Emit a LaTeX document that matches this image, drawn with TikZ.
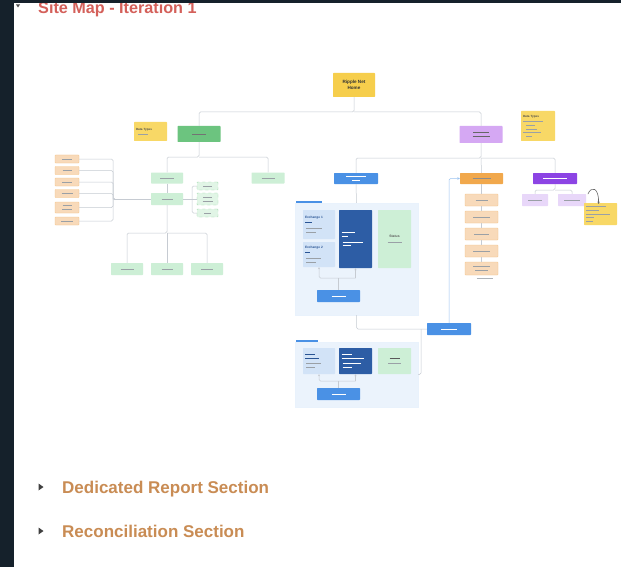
\documentclass[tikz,border=0pt]{standalone}
\usepackage{fontspec}
\setmainfont{Liberation Sans}
\usetikzlibrary{arrows.meta,calc}

\definecolor{darkbg}{HTML}{15212B}
\definecolor{titlered}{HTML}{D4605A}
\definecolor{tan}{HTML}{C98C54}
\definecolor{ylw}{HTML}{F6CE4C}
\definecolor{ylwnote}{HTML}{F8D866}
\definecolor{grn}{HTML}{6CC47F}
\definecolor{lgrn}{HTML}{CDEFD6}
\definecolor{prp}{HTML}{D5A8F3}
\definecolor{dprp}{HTML}{8C44E4}
\definecolor{lprp}{HTML}{E8D7F9}
\definecolor{blu}{HTML}{4A91E5}
\definecolor{dblu}{HTML}{2D5DA5}
\definecolor{lblu}{HTML}{D2E3F7}
\definecolor{framebg}{HTML}{EBF3FC}
\definecolor{org}{HTML}{F1A84C}
\definecolor{lorg}{HTML}{F8DABA}
\definecolor{wire}{HTML}{C6CBD2}
\definecolor{smudge}{HTML}{9AA0A6}

% a short grey stroke standing for a line of small print
\newcommand\gl[1]{\rule{#1pt}{0.7pt}}

\tikzset{
  bx/.style={rectangle, rounded corners=0.6pt, inner sep=0.6pt, align=center,
    font=\fontsize{3}{3.8}\selectfont, text=smudge},
  sz/.style 2 args={minimum width=#1, minimum height=#2},
  lgbox/.style={bx, fill=lgrn},
  dashgbox/.style={bx, fill=lgrn!60, draw=grn!70, dashed, line width=0.3pt},
  lobox/.style={bx, fill=lorg, draw=org!70, line width=0.3pt},
  lpbox/.style={bx, fill=lprp},
  note/.style={bx, fill=ylwnote, text=black!70, align=left},
  frm/.style={rectangle, fill=framebg, draw=blu!12, line width=0.3pt},
  wire/.style={draw=wire, line width=0.5pt, rounded corners=1.5pt},
  bwire/.style={draw=blu!55, line width=0.5pt, rounded corners=1.5pt},
  tip/.style={-{Stealth[length=2.4pt,width=2.4pt]}},
  head/.style={font=\bfseries\fontsize{17}{17}\selectfont, text=tan, anchor=base west},
}

\begin{document}
\begin{tikzpicture}[x=1pt,y=-1pt]
\useasboundingbox (0,0) rectangle (621,567);

% page: dark frame and white sheet
\fill[darkbg] (0,0) rectangle (621,567);
\fill[white] (14,3) rectangle (621,567);

% heading, its top hidden under the window edge
\node[anchor=base west, text=titlered, font=\bfseries\fontsize{16.2}{16}\selectfont,
      inner sep=0] (title) at (38,13.5) {Site Map - Iteration 1};
\fill[darkbg] (0,0) rectangle (621,3);
\fill[black!70] (16,4.5) -- (20,4.5) -- (18,7.5) -- cycle;

% ---------------- top level ----------------
\node[bx, sz={42}{24}, fill=ylw, text=black!80, font=\bfseries\fontsize{4.6}{6}\selectfont]
  (home) at (354,85) {Ripple Net\\Home};
\node[bx, sz={43}{16}, fill=grn, text=black!55] (pay) at (199,134) {\gl{14}};
\node[bx, sz={43}{17}, fill=prp, text=black!60] (stm) at (481,134.5) {\gl{16}\\\gl{17}};

\node[note, sz={33}{19}, text width=29pt, anchor=center] (dt1) at (150.5,131.5)
  {{\bfseries Data Types}\\[0.6pt]\hspace*{2pt}\textcolor{smudge}{\gl{10}}};
\node[note, sz={34}{30}, text width=30pt, anchor=center] (dt2) at (538,126)
  {{\bfseries Data Types}\\[0.6pt]\textcolor{smudge}{\gl{20}\\\hspace*{3pt}\gl{9}\\\hspace*{3pt}\gl{11}\\\gl{18}\\\hspace*{3pt}\gl{6}}};

\coordinate (hb) at (354,112);
\draw[wire] (home.south) -- (hb) -| (pay.north);
\draw[wire] (hb) -| (stm.north);

% ---------------- left branch ----------------
\node[lgbox, sz={32}{11}] (tx) at (167,178) {\gl{14}};
\node[lgbox, sz={33}{11}] (rt) at (268,178) {\gl{13}};
\coordinate (pb) at (199,157);
\draw[wire] (pay.south) -- (pb) -| (tx.north);
\draw[wire] (pb) -| (rt.north);

\node[lgbox, sz={32}{12}] (oo) at (167,199) {\gl{11}};
\draw[wire] (tx.south) -- (oo.north);

% source list on the far left
\node[lobox, sz={24}{8}]  (o1) at (67,159) {\gl{10}};
\node[lobox, sz={24}{8}]  (o2) at (67,170.5) {\gl{9}};
\node[lobox, sz={24}{8}]  (o3) at (67,182) {\gl{10}};
\node[lobox, sz={24}{8}]  (o4) at (67,193.5) {\gl{11}};
\node[lobox, sz={24}{11}] (o5) at (67,207.5) {\gl{9}\\\gl{10}};
\node[lobox, sz={24}{8}]  (o6) at (67,221) {\gl{12}};
\coordinate (lb) at (113,199);
\foreach \o in {o1,o2,o3,o4,o5,o6} \draw[wire] (\o.east) -| (lb);
\draw[wire, {Stealth[length=2pt,width=2pt]}-] (lb) -- (oo.west);

% dashed options to the right
\node[dashgbox, sz={21}{8}]  (d1) at (207.5,186) {\gl{9}};
\node[dashgbox, sz={21}{12}] (d2) at (207.5,199) {\gl{9}\\\gl{10}};
\node[dashgbox, sz={21}{8}]  (d3) at (207.5,213) {\gl{7}};
\coordinate (db) at (192,199);
\draw[wire] (oo.east) -- (db);
\draw[wire] (d1.west) -| (db);
\draw[wire] (d2.west) -- (db);
\draw[wire] (d3.west) -| (db);

% three leaves below
\node[lgbox, sz={32}{12}] (b1) at (127,269) {\gl{13}};
\node[lgbox, sz={32}{12}] (b2) at (167,269) {\gl{11}};
\node[lgbox, sz={32}{12}] (b3) at (207,269) {\gl{12}};
\coordinate (ob) at (167,233);
\draw[wire] (oo.south) -- (ob) -| (b1.north);
\draw[wire] (ob) -| (b3.north);
\draw[wire] (ob) -- (b2.north);

% ---------------- right branch ----------------
\node[bx, sz={44}{11}, fill=blu, text=white!80] (bl) at (356,178.5) {\gl{20}\\\gl{8}};
\node[bx, sz={43}{11}, fill=org, text=black!45] (or) at (481.5,178.5) {\gl{18}};
\node[bx, sz={44}{11}, fill=dprp, text=white!75] (dp) at (555,178.5) {\gl{24}};
\coordinate (sb) at (481,158);
\draw[wire] (stm.south) -- (sb) -| (bl.north);
\draw[wire] (sb) -- (or.north);
\draw[wire] (sb) -| (dp.north);

% purple leaves and note
\node[lpbox, sz={26}{12}] (lp1) at (535,200) {\gl{14}};
\node[lpbox, sz={28}{12}] (lp2) at (572,200) {\gl{16}};
\coordinate (pp) at (555,190);
\draw[wire] (dp.south) -- (pp) -| (lp1.north);
\draw[wire] (pp) -| (lp2.north);
\node[note, sz={33}{22}, text width=29pt, anchor=center] (nt) at (600.5,214)
  {\textcolor{smudge}{\gl{20}\\\gl{13}\\\gl{24}\\\gl{8}\\\gl{7}}};
\coordinate (cu1) at (588,194);
\coordinate (cu2) at (598.5,204);
\draw[black!60, line width=0.6pt, line cap=round, tip]
  (cu1) .. controls (591,186) and (599,187) .. (cu2);

% orange column
\node[lobox, sz={33}{12}] (c1) at (481.5,200) {\gl{12}};
\node[lobox, sz={33}{12}] (c2) at (481.5,217) {\gl{17}};
\node[lobox, sz={33}{12}] (c3) at (481.5,234) {\gl{15}};
\node[lobox, sz={33}{12}] (c4) at (481.5,251) {\gl{17}};
\node[lobox, sz={33}{13}] (c5) at (481.5,268.5) {\gl{17}\\\gl{13}};
\draw[wire] (or.south) -- (c1.north);
\draw[wire] (c1.south) -- (c2.north);
\draw[wire] (c2.south) -- (c3.north);
\draw[wire] (c3.south) -- (c4.north);
\draw[wire] (c4.south) -- (c5.north);
\node[bx, text=smudge!80, anchor=west] (cnote) at (476,278) {\gl{16}};

% ---------------- detail screen ----------------
\node[frm, sz={123}{112}] (fr1) at (356.5,259) {};
\node[bx, anchor=south west, text=blu, inner sep=0.3pt] (fr1t) at ($(fr1.north west)+(1,0.5)$) {\rule{26pt}{1.4pt}};
\node[bx, sz={32}{29}, fill=lblu, text=dblu!90!black, align=left, text width=28pt,
      font=\bfseries\fontsize{3.2}{4}\selectfont] (e1) at (319,224.5)
  {Exchange 1\\\mdseries\gl{7}\\[1.5pt]\textcolor{smudge}{\hspace*{1pt}\gl{16}\\\hspace*{1pt}\gl{10}}};
\node[bx, sz={32}{25}, fill=lblu, text=dblu!90!black, align=left, text width=28pt,
      font=\bfseries\fontsize{3.2}{4}\selectfont] (e2) at (319,254.5)
  {Exchange 2\\\mdseries\gl{5}\\[1.5pt]\textcolor{smudge}{\hspace*{1pt}\gl{15}\\\hspace*{1pt}\gl{10}}};
\node[bx, sz={33}{58}, fill=dblu, text=white!80, align=left, text width=28pt] (cb1) at (355.5,239)
  {\gl{13}\\\gl{6}\\[2pt]\hspace*{1pt}\gl{20}\\\hspace*{1pt}\gl{8}};
\node[bx, sz={33}{58}, fill=lgrn, text=black!65, font=\bfseries\fontsize{3.4}{5}\selectfont] (st1) at (394.5,239)
  {Status\\\textcolor{smudge}{\gl{14}}};
\node[bx, sz={43}{12}, fill=blu, text=white!80] (bt1) at (338.5,296) {\gl{14}};
\coordinate (k1) at (319,278);
\coordinate (k1m) at (338.5,278);
\draw[wire, {Stealth[length=2pt,width=2pt]}-] (e2.south) -- (k1) -- (k1 -| cb1);
\draw[wire, -{Stealth[length=2pt,width=2pt]}] (k1 -| cb1) -- (cb1.south);
\draw[wire] (k1m) -- (bt1.north);

% ---------------- summary screen ----------------
\node[frm, sz={123}{65}] (fr2) at (356.5,374.5) {};
\node[bx, anchor=south west, text=blu, inner sep=0.3pt] (fr2t) at ($(fr2.north west)+(1,0.5)$) {\rule{22pt}{1.4pt}};
\node[bx, sz={32}{26}, fill=lblu, text=dblu!90!black, align=left, text width=28pt] (dm) at (319,361)
  {\gl{10}\\\gl{14}\\[1.5pt]\textcolor{smudge}{\hspace*{1pt}\gl{15}\\\hspace*{1pt}\gl{9}}};
\node[bx, sz={33}{26}, fill=dblu, text=white!85, align=left, text width=28pt,
      font=\bfseries\fontsize{3.2}{4}\selectfont] (cb2) at (355.5,361)
  {\gl{10}\\\gl{22}\\[1.5pt]\mdseries\hspace*{1pt}\gl{18}\\\hspace*{1pt}\gl{9}};
\node[bx, sz={33}{26}, fill=lgrn, text=black!65, font=\bfseries\fontsize{3.4}{5}\selectfont] (st2) at (394.5,361)
  {\gl{10}\\\textcolor{smudge}{\gl{13}}};
\node[bx, sz={43}{12}, fill=blu, text=white!80] (bt2) at (338.5,394) {\gl{14}};
\coordinate (k2) at (319,381);
\coordinate (k2m) at (338.5,381);
\draw[wire, {Stealth[length=2pt,width=2pt]}-] (dm.south) -- (k2) -- (k2 -| cb2);
\draw[wire, -{Stealth[length=2pt,width=2pt]}] (k2 -| cb2) -- (cb2.south);
\draw[wire] (k2m) -- (bt2.north);

% ---------------- link between the screens ----------------
\draw[wire] (bl.south) -- (fr1.north);
\node[bx, sz={44}{12}, fill=blu, text=white!80] (mb) at (449,329) {\gl{16}};
\draw[wire] (fr1.south) |- (mb.west);
\coordinate (mj) at (421,329);
\draw[wire] (mj) |- (fr2.east);
\draw[bwire, -{Stealth[length=2.5pt,width=2.5pt]}] (mb.north) |- (or.west);

% ---------------- page sections below ----------------
\fill[black!75] (38.5,483.5) -- (38.5,490.5) -- (43.5,487) -- cycle;
\node[head, inner sep=0] (sec1) at (62,493) {Dedicated Report Section};
\fill[black!75] (38.5,527.5) -- (38.5,534.5) -- (43.5,531) -- cycle;
\node[head, inner sep=0] (sec2) at (62,537) {Reconciliation Section};
\end{tikzpicture}
\end{document}
